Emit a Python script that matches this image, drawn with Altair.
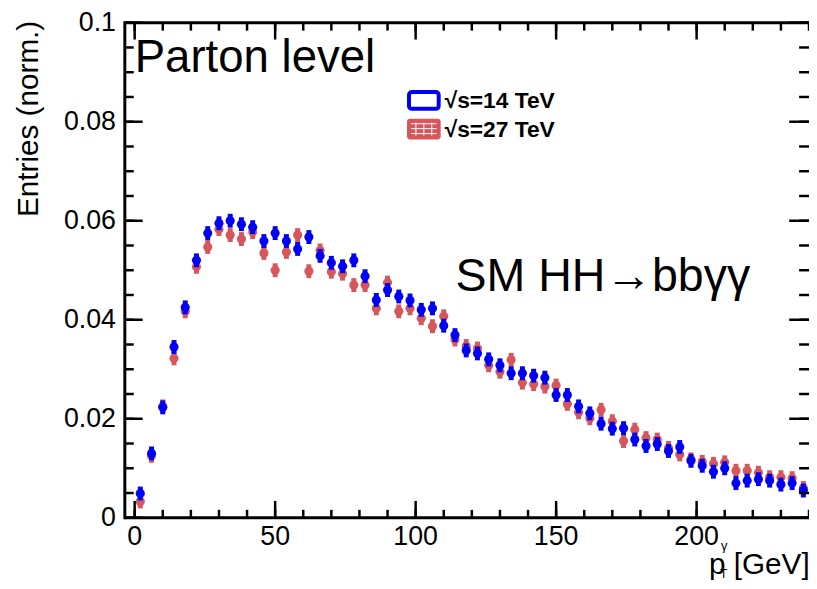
import altair as alt
import pandas as pd

# ---------------- data ----------------
pt_centers = [2, 6, 10, 14, 18, 22, 26, 30, 34, 38, 42, 46, 50, 54, 58, 62, 66, 70, 74, 78,
              82, 86, 90, 94, 98, 102, 106, 110, 114, 118, 122, 126, 130, 134, 138, 142, 146, 150, 154, 158,
              162, 166, 170, 174, 178, 182, 186, 190, 194, 198, 202, 206, 210, 214, 218, 222, 226, 230, 234, 238]

entries_14 = [0.0049, 0.0130, 0.0223, 0.0345, 0.0425, 0.0520, 0.0575, 0.0595, 0.0600, 0.0593,
              0.0587, 0.0559, 0.0575, 0.0559, 0.0543, 0.0567, 0.0529, 0.0515, 0.0508, 0.0520,
              0.0488, 0.0440, 0.0460, 0.0447, 0.0439, 0.0420, 0.0423, 0.0388, 0.0369, 0.0338,
              0.0332, 0.0320, 0.0308, 0.0292, 0.0292, 0.0287, 0.0283, 0.0248, 0.0248, 0.0225,
              0.0211, 0.0190, 0.0180, 0.0181, 0.0158, 0.0145, 0.0149, 0.0135, 0.0143, 0.0115,
              0.0105, 0.0093, 0.0100, 0.0070, 0.0075, 0.0078, 0.0075, 0.0067, 0.0070, 0.0055]

entries_27 = [0.0033, 0.0125, 0.0225, 0.0322, 0.0417, 0.0507, 0.0547, 0.0583, 0.0571, 0.0563,
              0.0577, 0.0535, 0.0500, 0.0537, 0.0571, 0.0498, 0.0540, 0.0497, 0.0493, 0.0470,
              0.0470, 0.0423, 0.0475, 0.0417, 0.0423, 0.0403, 0.0387, 0.0407, 0.0360, 0.0347,
              0.0342, 0.0308, 0.0295, 0.0319, 0.0273, 0.0270, 0.0265, 0.0267, 0.0230, 0.0213,
              0.0201, 0.0218, 0.0195, 0.0155, 0.0178, 0.0161, 0.0158, 0.0141, 0.0128, 0.0118,
              0.0113, 0.0109, 0.0112, 0.0095, 0.0095, 0.0091, 0.0082, 0.0082, 0.0080, 0.0060]

stat_err = 0.0014  # half-height of the vertical error bars

legend_labels = ["\u221as=14 TeV", "\u221as=27 TeV"]
x_major = [0, 50, 100, 150, 200]
x_major_labels = ["0", "50", "100", "150", "200"]
x_minor = list(range(0, 241, 10))
y_major = [0.0, 0.02, 0.04, 0.06, 0.08, 0.1]
y_major_labels = ["0", "0.02", "0.04", "0.06", "0.08", "0.1"]
y_minor = [round(i * 0.005, 3) for i in range(0, 21)]

BLUE = "#0000f5"
RED = "#d6565b"
FONT = "Liberation Sans"

W, H = 691, 500
xs = alt.Scale(domain=[-3.5, 240], nice=False, zero=False)
ys = alt.Scale(domain=[0, 0.1], nice=False, zero=False)


def series_df(vals):
    return pd.DataFrame({
        "pt": pt_centers,
        "v": vals,
        "lo": [v - stat_err for v in vals],
        "hi": [v + stat_err for v in vals],
    })


d14 = series_df(entries_14)
d27 = series_df(entries_27)


def err_layer(df, color):
    return alt.Chart(df).mark_rule(color=color, strokeWidth=5).encode(
        x=alt.X("pt:Q", scale=xs, axis=None),
        y=alt.Y("lo:Q", scale=ys, axis=None),
        y2="hi:Q",
    )


def pt_layer(df, color):
    return alt.Chart(df).mark_circle(color=color, size=85, opacity=1).encode(
        x=alt.X("pt:Q", scale=xs, axis=None),
        y=alt.Y("v:Q", scale=ys, axis=None),
    )


# ---------------- inward ticks (ROOT style) ----------------
def yticks(vals, length, left=True):
    df = pd.DataFrame({"t": vals})
    if left:
        xa, xb = alt.value(0), alt.value(length)
    else:
        xa, xb = alt.value(W - length), alt.value(W)
    return alt.Chart(df).mark_rule(color="black", strokeWidth=2.5).encode(
        y=alt.Y("t:Q", scale=ys, axis=None), x=xa, x2=xb)


def xticks(vals, length, bottom=True):
    df = pd.DataFrame({"t": vals})
    if bottom:
        ya, yb = alt.value(H - length), alt.value(H)
    else:
        ya, yb = alt.value(0), alt.value(length)
    return alt.Chart(df).mark_rule(color="black", strokeWidth=2.5).encode(
        x=alt.X("t:Q", scale=xs, axis=None), y=ya, y2=yb)


ylab_layer = alt.Chart(pd.DataFrame({"t": y_major, "lbl": y_major_labels})).mark_text(
    font=FONT, fontSize=27, color="black", align="right", baseline="middle").encode(
    y=alt.Y("t:Q", scale=ys, axis=None), x=alt.value(-9), text="lbl:N")
xlab_layer = alt.Chart(pd.DataFrame({"t": x_major, "lbl": x_major_labels})).mark_text(
    font=FONT, fontSize=27, color="black", align="center", baseline="top").encode(
    x=alt.X("t:Q", scale=xs, axis=None), y=alt.value(H + 7), text="lbl:N")

one = pd.DataFrame({"k": [0]})


def seg(x1, x2, y1, y2, color, width):
    return alt.Chart(one).mark_rule(color=color, strokeWidth=width).encode(
        x=alt.value(x1), x2=alt.value(x2), y=alt.value(y1), y2=alt.value(y2))


def label(txt, x, y, size, align="left", baseline="alphabetic", angle=0, weight="normal"):
    props = dict(text=txt, fontSize=size, font=FONT, color="black", align=align,
                 baseline=baseline, fontWeight=weight)
    if angle:
        props["angle"] = angle
    return alt.Chart(one).mark_text(**props).encode(x=alt.value(x), y=alt.value(y))


frame = [seg(0, W, 0, 0, "black", 3), seg(0, 0, -1.5, H + 1.5, "black", 3),
         seg(0, W, H, H, "black", 3)]

# legend boxes
leg_blue = alt.Chart(one).mark_rect(fill="white", stroke=BLUE, strokeWidth=4, cornerRadius=3).encode(
    x=alt.value(287), x2=alt.value(317), y=alt.value(70), y2=alt.value(87))
leg_red = alt.Chart(one).mark_rect(fill=RED, cornerRadius=3).encode(
    x=alt.value(285), x2=alt.value(319), y=alt.value(97), y2=alt.value(118))
hatch = [seg(289, 315, hy, hy, "white", 1) for hy in (102, 107, 112)] + \
        [seg(hx, hx, 101, 114, "white", 1) for hx in (294, 302, 310)]

layers = [
    err_layer(d27, RED), pt_layer(d27, RED),
    err_layer(d14, BLUE), pt_layer(d14, BLUE),
    yticks(y_major, 18), yticks(y_minor, 9),
    yticks(y_major, 20, left=False), yticks(y_minor, 10, left=False),
    xticks(x_major, 17), xticks(x_minor, 8),
    xticks(x_major, 17, bottom=False), xticks(x_minor, 8, bottom=False),
    *frame, ylab_layer, xlab_layer,
    label("Parton level", 10, 50, 46),
    label("SM HH\u2192bb\u03b3\u03b3", 334, 271, 47),
    leg_blue, leg_red, *hatch,
    label(legend_labels[0], 323, 86, 23, weight="bold"),
    label(legend_labels[1], 323, 115, 23, weight="bold"),
    label("Entries (norm.)", -97, -2, 30, align="right", baseline="middle", angle=270),
    label("p", 590, 557, 30),
    label("T", 601, 561, 12),
    label("\u03b3", 602, 533, 13),
    label("[GeV]", 615, 557, 30),
]

chart = alt.layer(*layers).properties(
    width=W, height=H,
    background="white",
    autosize=alt.AutoSizeParams(type="none"),
    padding={"left": 118, "top": 12, "right": 0, "bottom": 61},
).configure_view(strokeWidth=0)

chart.save("out.html", embed_options={"renderer": "svg", "actions": False})
